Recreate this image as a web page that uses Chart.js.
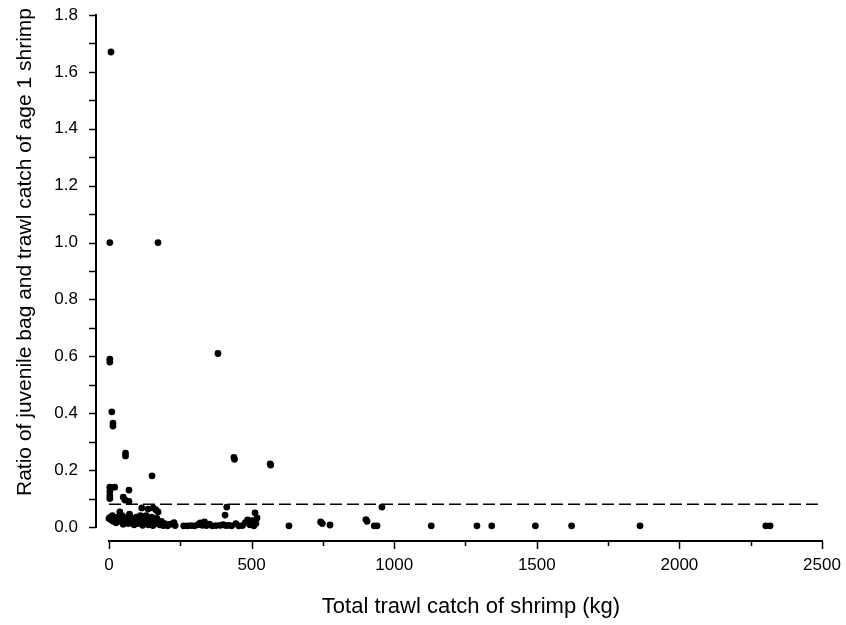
<!DOCTYPE html>
<html>
<head>
<meta charset="utf-8">
<script src="https://cdn.jsdelivr.net/npm/chart.js@4/dist/chart.umd.min.js"></script>
<style>
  body { margin: 0; background: #fff; }
  canvas { display: block; }
</style>
</head>
<body>
<canvas id="catchChart" width="846" height="625"></canvas>
<script>
// total trawl catch (kg) and ratio juvenile bag / trawl catch
const catchKg = [
  7, 3, 172, 3, 3, 382, 10, 14, 14, 58, 58, 151, 438, 440, 565, 567,
  3, 20, 70, 3, 3, 3, 50, 56, 70, 38, 115, 137, 155, 172, 165, 413, 407, 957, 512, 519,
  0, 5, 8, 12, 15, 20, 25, 30, 35, 42, 46, 50, 55, 60, 65, 68, 72, 76, 80, 84, 88, 92,
  96, 100, 105, 110, 114, 118, 122, 126, 130, 134, 138, 142, 146, 150, 154, 158, 162,
  168, 172, 178, 184, 190, 196, 205, 215, 228, 232,
  262, 275, 288, 300, 312, 320, 328, 335, 342, 352, 362, 375, 390, 400, 410, 420, 430,
  445, 455, 468, 478, 486, 494, 502, 508, 515,
  631, 742, 748, 775, 901, 905, 930, 940, 1130, 1290, 1342, 1495, 1622, 1862, 2303, 2318
];
const ratio = [
  1.67, 1.0, 1.0, 0.59, 0.58, 0.61, 0.405, 0.365, 0.355, 0.26, 0.25, 0.18, 0.245, 0.238, 0.222, 0.218,
  0.14, 0.14, 0.13, 0.125, 0.11, 0.10, 0.105, 0.095, 0.09, 0.053, 0.067, 0.063, 0.067, 0.053, 0.06, 0.07, 0.042, 0.07, 0.05, 0.032,
  0.03, 0.035, 0.025, 0.04, 0.02, 0.03, 0.015, 0.035, 0.02, 0.025, 0.04, 0.01, 0.03, 0.02, 0.035, 0.012, 0.045, 0.025, 0.015, 0.03, 0.008, 0.022,
  0.035, 0.012, 0.028, 0.04, 0.018, 0.006, 0.03, 0.015, 0.04, 0.022, 0.008, 0.03, 0.015, 0.035, 0.005, 0.025, 0.012,
  0.03, 0.018, 0.008, 0.02, 0.005, 0.012, 0.004, 0.01, 0.015, 0.005,
  0.004, 0.004, 0.005, 0.004, 0.008, 0.014, 0.006, 0.018, 0.005, 0.01, 0.004, 0.005, 0.006, 0.008, 0.005, 0.006, 0.004,
  0.012, 0.004, 0.005, 0.015, 0.025, 0.008, 0.022, 0.004, 0.012,
  0.004, 0.018, 0.012, 0.007, 0.026, 0.02, 0.004, 0.004, 0.004, 0.004, 0.004, 0.004, 0.004, 0.004, 0.004, 0.004
];
const refLevel = 0.08;   // dashed line
const refRange = [0, 2500];

const xTicks = [0, 500, 1000, 1500, 2000, 2500];
const xMinorTicks = [250, 750, 1250, 1750, 2250];
const yTicks = [0, 0.2, 0.4, 0.6, 0.8, 1.0, 1.2, 1.4, 1.6, 1.8];
const yMinorTicks = [0.1, 0.3, 0.5, 0.7, 0.9, 1.1, 1.3, 1.5, 1.7];

const xTitle = 'Total trawl catch of shrimp (kg)';
const yTitle = 'Ratio of juvenile bag and trawl catch of age 1 shrimp';

Chart.defaults.font.family = '"Liberation Sans", Arial, sans-serif';
Chart.defaults.font.size = 17;
Chart.defaults.color = '#000';

// axes sit a bit away from the data (detached), so they are drawn by hand
const detachedAxes = {
  id: 'detachedAxes',
  afterDraw(chart) {
    const { ctx, chartArea, scales: { x, y } } = chart;
    ctx.save();
    ctx.strokeStyle = '#000';

    const ax = chartArea.left - 1;
    ctx.lineWidth = 2;
    ctx.beginPath();
    ctx.moveTo(ax, y.getPixelForValue(1.8) - 1);
    ctx.lineTo(ax, y.getPixelForValue(0) + 1);
    ctx.stroke();
    ctx.lineWidth = 1.5;
    yTicks.concat(yMinorTicks).forEach(v => {
      const py = Math.round(y.getPixelForValue(v)) + 0.5;
      ctx.beginPath();
      ctx.moveTo(ax - 7, py);
      ctx.lineTo(ax, py);
      ctx.stroke();
    });

    const ay = chartArea.bottom;
    ctx.lineWidth = 2;
    ctx.beginPath();
    ctx.moveTo(x.getPixelForValue(0) - 1, ay);
    ctx.lineTo(x.getPixelForValue(2500) + 1, ay);
    ctx.stroke();
    ctx.lineWidth = 1.5;
    xTicks.forEach(v => {
      const px = Math.round(x.getPixelForValue(v)) + 0.5;
      ctx.beginPath(); ctx.moveTo(px, ay); ctx.lineTo(px, ay + 8); ctx.stroke();
    });
    xMinorTicks.forEach(v => {
      const px = Math.round(x.getPixelForValue(v)) + 0.5;
      ctx.beginPath(); ctx.moveTo(px, ay); ctx.lineTo(px, ay + 5); ctx.stroke();
    });

    // axis titles
    ctx.fillStyle = '#000';
    ctx.textAlign = 'center';
    ctx.textBaseline = 'middle';
    ctx.font = '22px "Liberation Sans", Arial, sans-serif';
    ctx.fillText(xTitle, 471, 607);
    ctx.font = '21px "Liberation Sans", Arial, sans-serif';
    ctx.translate(25, 252);
    ctx.rotate(-Math.PI / 2);
    ctx.fillText(yTitle, 0, 0);
    ctx.restore();
  }
};

const points = catchKg.map((v, i) => ({ x: v, y: ratio[i] }));

new Chart(document.getElementById('catchChart'), {
  type: 'scatter',
  data: {
    datasets: [{
      data: points,
      backgroundColor: '#000',
      borderWidth: 0,
      pointRadius: 3.4,
      pointHoverRadius: 3.4
    }, {
      type: 'line',
      data: refRange.map(v => ({ x: v, y: refLevel })),
      borderColor: '#000',
      borderWidth: 1.5,
      borderDash: [12, 5],
      pointRadius: 0,
      fill: false
    }]
  },
  options: {
    responsive: false,
    animation: false,
    layout: { padding: { top: 15, right: 24, left: 0, bottom: 0 } },
    plugins: { legend: { display: false }, tooltip: { enabled: false } },
    scales: {
      x: {
        type: 'linear',
        min: -42,
        max: 2500,
        grid: { display: false, drawTicks: false },
        border: { display: false },
        afterBuildTicks: s => { s.ticks = xTicks.map(v => ({ value: v })); },
        afterFit: s => { s.height = 84; s.paddingLeft = 0; s.paddingRight = 0; },
        ticks: { padding: 14, callback: v => String(v) }
      },
      y: {
        type: 'linear',
        min: -0.0492,
        max: 1.8,
        grid: { display: false, drawTicks: false },
        border: { display: false },
        afterBuildTicks: s => { s.ticks = yTicks.map(v => ({ value: v })); },
        afterFit: s => { s.width = 97; s.paddingTop = 0; s.paddingBottom = 0; },
        ticks: { padding: 19, callback: v => Number(v).toFixed(1) }
      }
    }
  },
  plugins: [detachedAxes]
});
</script>
</body>
</html>
